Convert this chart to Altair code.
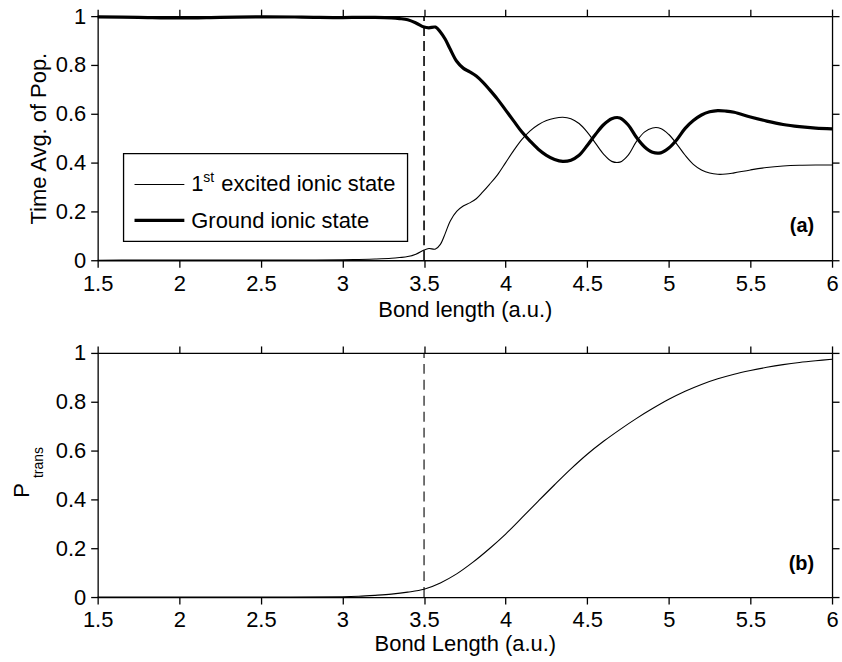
import altair as alt
import pandas as pd

# ---------------- data ----------------
series_names = ["1st excited ionic state", "Ground ionic state"]

bond_a = [1.5, 1.75, 2.0, 2.25, 2.5, 2.75, 3.0, 3.1, 3.2, 3.3, 3.35, 3.4, 3.45, 3.5,
          3.53, 3.57, 3.6, 3.63, 3.66, 3.7, 3.74, 3.78, 3.82, 3.86, 3.9, 3.95, 4.0,
          4.05, 4.1, 4.15, 4.2, 4.25, 4.3, 4.35, 4.4, 4.45, 4.5, 4.55, 4.6, 4.65,
          4.7, 4.75, 4.8, 4.85, 4.9, 4.95, 5.0, 5.05, 5.1, 5.15, 5.2, 5.25, 5.3,
          5.35, 5.4, 5.5, 5.6, 5.7, 5.8, 5.9, 6.0]

ground = [0.997, 0.995, 0.993, 0.995, 0.997, 0.996, 0.994, 0.995, 0.995, 0.993,
          0.990, 0.985, 0.972, 0.955, 0.952, 0.955, 0.935, 0.905, 0.865, 0.815,
          0.787, 0.772, 0.755, 0.730, 0.700, 0.660, 0.615, 0.570, 0.525, 0.488,
          0.455, 0.430, 0.413, 0.405, 0.410, 0.430, 0.470, 0.515, 0.555, 0.580,
          0.583, 0.555, 0.505, 0.465, 0.442, 0.440, 0.460, 0.495, 0.540, 0.572,
          0.595, 0.608, 0.613, 0.611, 0.606, 0.587, 0.570, 0.556, 0.547, 0.541,
          0.538]

excited = [0.000, 0.001, 0.001, 0.001, 0.001, 0.001, 0.002, 0.003, 0.005, 0.008,
           0.011, 0.015, 0.025, 0.042, 0.048, 0.046, 0.065, 0.110, 0.160, 0.200,
           0.222, 0.235, 0.252, 0.280, 0.310, 0.350, 0.400, 0.450, 0.495, 0.530,
           0.555, 0.572, 0.582, 0.586, 0.580, 0.560, 0.525, 0.480, 0.435, 0.405,
           0.402, 0.430, 0.485, 0.525, 0.542, 0.540, 0.515, 0.475, 0.430, 0.393,
           0.370, 0.357, 0.352, 0.353, 0.358, 0.370, 0.380, 0.386, 0.389, 0.390,
           0.390]

bond_b = [1.5, 2.0, 2.5, 3.0, 3.1, 3.2, 3.3, 3.4, 3.5, 3.6, 3.7, 3.8, 3.9, 4.0,
          4.1, 4.2, 4.3, 4.4, 4.5, 4.6, 4.7, 4.8, 4.9, 5.0, 5.1, 5.2, 5.3, 5.4,
          5.5, 5.6, 5.7, 5.8, 5.9, 6.0]
p_trans = [0.0, 0.0, 0.0, 0.001, 0.003, 0.007, 0.012, 0.020, 0.032, 0.058, 0.095,
           0.143, 0.198, 0.258, 0.325, 0.393, 0.460, 0.525, 0.585, 0.638, 0.686,
           0.731, 0.772, 0.810, 0.843, 0.871, 0.894, 0.913, 0.928, 0.941, 0.952,
           0.961, 0.968, 0.974]

x_ticks = [1.5, 2, 2.5, 3, 3.5, 4, 4.5, 5, 5.5, 6]
y_ticks = [0, 0.2, 0.4, 0.6, 0.8, 1]
marker_x = 3.5

title_a_x = "Bond length (a.u.)"
title_b_x = "Bond Length (a.u.)"
title_a_y = "Time Avg. of Pop."
title_b_y_main = "P"
title_b_y_sub = "trans"
legend_sup = "st"
legend_first = "1"
legend_rest = "excited ionic state"
panel_labels = ["(a)", "(b)"]

# ---------------- layout constants ----------------
W, H = 737, 245
FONT = "Liberation Sans"
FS = 22
INTERP = "catmull-rom"

xscale = alt.Scale(domain=[1.5, 6], nice=False, zero=False)
yscale = alt.Scale(domain=[0, 1], nice=False, zero=False)


def main_axes(xtitle, ytitle, xtitle_pad):
    xa = alt.Axis(orient="bottom", values=x_ticks, format="~g", title=xtitle,
                  labelFlush=False, labelPadding=6, titlePadding=xtitle_pad)
    ya = alt.Axis(orient="left", values=y_ticks, format="~g",
                  title=ytitle, labelFlush=False, labelPadding=5, titlePadding=5)
    return xa, ya


def frame_layer(dash_width, dash):
    d = pd.DataFrame({"x": [marker_x], "y0": [0.0], "y1": [1.0]})
    return alt.Chart(d).mark_rule(color="black", strokeDash=dash,
                                  strokeWidth=dash_width).encode(
        x=alt.X("x:Q", scale=xscale,
                axis=alt.Axis(orient="top", values=x_ticks, labels=False,
                              title=None)),
        y=alt.Y("y0:Q", scale=yscale,
                axis=alt.Axis(orient="right", values=y_ticks, labels=False,
                              title=None)),
        y2="y1:Q",
    )


def text_layer(txt, x, y, size=FS, align="left", baseline="alphabetic",
               weight="normal", angle=0):
    d = pd.DataFrame({"t": [txt]})
    return alt.Chart(d).mark_text(
        align=align, baseline=baseline, font=FONT, fontSize=size,
        fontWeight=weight, color="black", angle=angle,
    ).encode(x=alt.value(x), y=alt.value(y), text="t:N")


# ---------------- panel (a) ----------------
rows = []
for name, vals in zip(series_names, [excited, ground]):
    for xv, yv in zip(bond_a, vals):
        rows.append({"x": xv, "v": yv, "s": name})
df_a = pd.DataFrame(rows)

xa, ya = main_axes(title_a_x, title_a_y, 5)
lines_a = alt.Chart(df_a).mark_line(color="black", interpolate=INTERP).encode(
    x=alt.X("x:Q", scale=xscale, axis=xa),
    y=alt.Y("v:Q", scale=yscale, axis=ya),
    detail="s:N",
    strokeWidth=alt.StrokeWidth("s:N", scale=alt.Scale(domain=series_names,
                                                        range=[1.1, 3.2]),
                                legend=None),
)

leg_box = alt.Chart(pd.DataFrame({"t": [0]})).mark_rect(
    fill="white", stroke="black", strokeWidth=1.3).encode(
    x=alt.value(26), x2=alt.value(311), y=alt.value(138), y2=alt.value(226))
leg_l1 = alt.Chart(pd.DataFrame({"t": [0]})).mark_rule(
    color="black", strokeWidth=1.1).encode(
    x=alt.value(37), x2=alt.value(87), y=alt.value(169))
leg_l2 = alt.Chart(pd.DataFrame({"t": [0]})).mark_rule(
    color="black", strokeWidth=3.2).encode(
    x=alt.value(37), x2=alt.value(87), y=alt.value(205))

panel_a = alt.layer(
    lines_a,
    frame_layer(1.6, [10, 5]),
    leg_box, leg_l1, leg_l2,
    text_layer(legend_first, 94, 176),
    text_layer(legend_sup, 106, 166, size=14),
    text_layer(legend_rest, 124, 176),
    text_layer(series_names[1], 94, 213),
    text_layer(panel_labels[0], 719, 217, size=20, align="right", weight="bold"),
).resolve_axis(x="independent", y="independent").properties(width=W, height=H)

# ---------------- panel (b) ----------------
df_b = pd.DataFrame({"x": bond_b, "v": p_trans})
xb, yb = main_axes(title_b_x, None, 3)
line_b = alt.Chart(df_b).mark_line(color="black", strokeWidth=1.1,
                                   interpolate=INTERP).encode(
    x=alt.X("x:Q", scale=xscale, axis=xb),
    y=alt.Y("v:Q", scale=yscale, axis=yb),
)

panel_b = alt.layer(
    line_b,
    frame_layer(1.1, [10, 6]),
    text_layer(title_b_y_main, -69, 138, align="center", angle=270),
    text_layer(title_b_y_sub, -55, 110, size=14, align="center", angle=270),
    text_layer(panel_labels[1], 719, 218, size=20, align="right", weight="bold"),
).resolve_axis(x="independent", y="independent").properties(width=W, height=H)

chart = alt.vconcat(panel_a, panel_b, spacing=93, bounds="flush").properties(
    padding={"left": 11, "top": 4, "right": 2, "bottom": 4}
).configure_view(stroke=None).configure_axis(
    grid=False,
    domainColor="black", domainWidth=1.3,
    tickColor="black", tickWidth=1.3, tickSize=7,
    labelFont=FONT, labelFontSize=FS, labelColor="black",
    titleFont=FONT, titleFontSize=FS, titleFontWeight="normal", titleColor="black",
)

chart.save("out.html", embed_options={"renderer": "svg", "actions": False})
